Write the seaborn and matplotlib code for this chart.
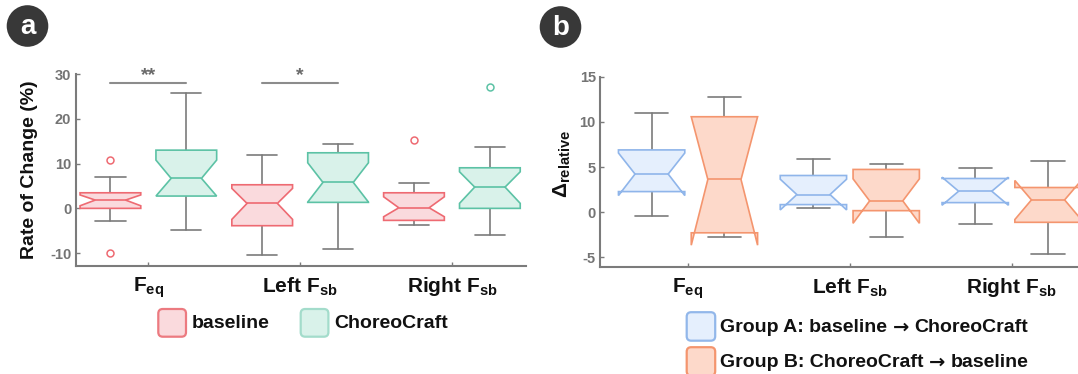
import numpy as np
import matplotlib
matplotlib.use("Agg")
import matplotlib.pyplot as plt
from matplotlib.patches import FancyBboxPatch, Circle
from matplotlib.offsetbox import TextArea, HPacker, AnnotationBbox
import seaborn as sns

# ---------------- data ----------------
metrics = [r"$\mathbf{F_{eq}}$", r"Left $\mathbf{F_{sb}}$", r"Right $\mathbf{F_{sb}}$"]

# (a) rate of change (%) per metric
base_q1 = [0.0, -3.87, -2.68]
base_med = [1.85, 1.11, 0.13]
base_q3 = [3.48, 5.27, 3.48]
base_lo = [-2.83, -10.5, -3.79]
base_hi = [6.92, 11.9, 5.58]
base_cilo = [0.58, -2.46, -1.87]
base_cihi = [3.0, 4.46, 2.59]
base_out = [[10.7, -10.04], [], [15.3]]

cc_q1 = [2.75, 1.34, 0.0]
cc_med = [6.7, 5.8, 4.75]
cc_q3 = [13.0, 12.41, 9.06]
cc_lo = [-4.91, -9.08, -5.96]
cc_hi = [25.67, 14.28, 13.68]
cc_cilo = [2.75, 1.4, 1.12]
cc_cihi = [10.78, 10.18, 8.17]
cc_out = [[], [], [27.14]]

sig_pairs = [0, 1]
sig_marks = ["**", "*"]
sig_level = 28.0

# (b) relative delta per metric, by group order
ga_q1 = [2.29, 0.85, 1.07]
ga_med = [4.23, 1.96, 2.33]
ga_q3 = [6.9, 4.07, 3.74]
ga_lo = [-0.45, 0.5, -1.27]
ga_hi = [10.97, 5.85, 4.89]
ga_cilo = [1.85, 0.26, 0.78]
ga_cihi = [6.56, 3.66, 3.88]

gb_q1 = [-2.27, 0.18, -1.11]
gb_med = [3.63, 1.26, 1.37]
gb_q3 = [10.57, 4.74, 2.74]
gb_lo = [-2.71, -2.71, -4.67]
gb_hi = [12.79, 5.3, 5.71]
gb_cilo = [-3.64, -1.22, -0.8]
gb_cihi = [10.57, 3.7, 3.52]

legend_a = ["baseline", "ChoreoCraft"]
legend_b = [("Group A: baseline", "ChoreoCraft"), ("Group B: ChoreoCraft", "baseline")]

# ---------------- style ----------------
sns.set_theme(style="ticks")
plt.rcParams["font.family"] = ["Liberation Sans", "DejaVu Sans"]
plt.rcParams["mathtext.fontset"] = "custom"
plt.rcParams["mathtext.rm"] = "Liberation Sans"
plt.rcParams["mathtext.bf"] = "Liberation Sans:bold"
plt.rcParams["mathtext.it"] = "Liberation Sans:italic"

GRAY = "#7b7b7b"
TICK_GRAY = "#747474"
RED_E, RED_F = "#ee6a72", "#fadadd"
GRN_E, GRN_F = "#5cc2a5", "#d9f2ea"
BLU_E, BLU_F = "#8fb5ea", "#e5effd"
ORG_E, ORG_F = "#f4956e", "#fdd9ca"
INK = "#111111"

W, H, DPI = 1078, 374, 100
fig = plt.figure(figsize=(W / DPI, H / DPI), dpi=DPI)


def px_axes(left, top, right, bottom):
    return fig.add_axes([left / W, 1 - bottom / H, (right - left) / W, (bottom - top) / H])


def draw_boxes(ax, pos, width, q1, med, q3, lo, hi, cilo, cihi, outs, edge, face):
    stats = []
    for i in range(len(q1)):
        stats.append(dict(q1=q1[i], med=med[i], q3=q3[i], whislo=lo[i], whishi=hi[i],
                          cilo=cilo[i], cihi=cihi[i], fliers=np.array(outs[i], dtype=float)))
    ax.bxp(stats, positions=pos, widths=width, capwidths=width / 2, shownotches=True,
           patch_artist=True, manage_ticks=False,
           boxprops=dict(facecolor=face, edgecolor=edge, linewidth=1.2, zorder=3),
           medianprops=dict(color=edge, linewidth=1.2, zorder=4),
           whiskerprops=dict(color=GRAY, linewidth=1.2, zorder=2),
           capprops=dict(color=GRAY, linewidth=1.2, zorder=2),
           flierprops=dict(marker="o", markerfacecolor="white", markeredgecolor=edge,
                           markersize=5, markeredgewidth=1.1, zorder=4))


def style_axes(ax, yticks):
    sns.despine(ax=ax)
    for s in ("left", "bottom"):
        ax.spines[s].set_color(GRAY)
        ax.spines[s].set_linewidth(1.5)
    ax.set_yticks(yticks)
    ax.set_yticklabels([str(t) for t in yticks], fontsize=10.5, fontweight="bold", color=TICK_GRAY)
    ax.tick_params(axis="y", direction="in", length=3, width=1, color=GRAY, pad=3)
    ax.set_xticks(range(len(metrics)))
    ax.set_xticklabels(metrics, fontsize=15, fontweight="bold", color=INK)
    ax.tick_params(axis="x", direction="in", length=3, width=1, color=GRAY, pad=7)
    ax.grid(False)
    ax.set_facecolor("none")


idx = np.arange(len(metrics))

# ---------------- panel a ----------------
ax_a = px_axes(75.5, 74, 526.3, 265.7)
draw_boxes(ax_a, idx - 0.25, 0.40, base_q1, base_med, base_q3, base_lo, base_hi,
           base_cilo, base_cihi, base_out, RED_E, RED_F)
draw_boxes(ax_a, idx + 0.25, 0.40, cc_q1, cc_med, cc_q3, cc_lo, cc_hi,
           cc_cilo, cc_cihi, cc_out, GRN_E, GRN_F)
ax_a.set_xlim(-0.48, 2.49)
ax_a.set_ylim(-12.8, 30)
style_axes(ax_a, [-10, 0, 10, 20, 30])
for g, mark in zip(sig_pairs, sig_marks):
    ax_a.plot([g - 0.25, g + 0.25], [sig_level, sig_level], color="#8c8c8c", lw=1.5,
              clip_on=False, zorder=5)
    ax_a.text(g, sig_level + 1.6, mark, ha="center", va="center", fontsize=14,
              fontweight="bold", color="#6a6a6a", clip_on=False)

fig.text(29.5 / W, 1 - 169.5 / H, "Rate of Change (%)", rotation=90, ha="center",
         va="center", fontsize=14, fontweight="bold", color=INK)

# ---------------- panel b ----------------
ax_b = px_axes(600, 76.7, 600 + 3.144 * 161.8, 266.7)
draw_boxes(ax_b, idx - 0.225, 0.41, ga_q1, ga_med, ga_q3, ga_lo, ga_hi,
           ga_cilo, ga_cihi, [[], [], []], BLU_E, BLU_F)
draw_boxes(ax_b, idx + 0.225, 0.41, gb_q1, gb_med, gb_q3, gb_lo, gb_hi,
           gb_cilo, gb_cihi, [[], [], []], ORG_E, ORG_F)
ax_b.set_xlim(-0.544, 2.6)
ax_b.set_ylim(-6.02, 15)
style_axes(ax_b, [-5, 0, 5, 10, 15])

fig.text(562 / W, 1 - 164 / H, r"$\mathbf{\Delta_{relative}}$", rotation=90, ha="center",
         va="center", fontsize=15, color=INK)

# ---------------- panel badges ----------------
for cx, cy, letter in [(27.5, 26, "a"), (560.5, 27, "b")]:
    fig.add_artist(Circle((cx / DPI, (H - cy) / DPI), 20.8 / DPI, transform=fig.dpi_scale_trans,
                          facecolor="#383838", edgecolor="none"))
    fig.text(cx / W, 1 - (cy + 1) / H, letter, ha="center", va="center", fontsize=20,
             fontweight="bold", color="white")


# ---------------- legends ----------------
def legend_patch(x, y, size, face, edge):
    fig.add_artist(FancyBboxPatch((x / DPI, (H - y - size) / DPI), size / DPI, size / DPI,
                                  boxstyle="round,pad=0,rounding_size=0.045",
                                  transform=fig.dpi_scale_trans, facecolor=face,
                                  edgecolor=edge, linewidth=1.6))


legend_patch(158.3, 309, 27.7, RED_F, "#ec7a80")
fig.text(191.7 / W, 1 - 323 / H, legend_a[0], ha="left", va="center", fontsize=14,
         fontweight="bold", color=INK)
legend_patch(300.7, 309, 27.7, GRN_F, "#a3dccb")
fig.text(334.3 / W, 1 - 323 / H, legend_a[1], ha="left", va="center", fontsize=14,
         fontweight="bold", color=INK)

txt_props = dict(fontsize=14, fontweight="bold", color=INK)
arrow_props = dict(fontsize=14, fontweight="bold", color=INK, family="DejaVu Sans")
for (left_txt, right_txt), y_mid, face, edge in [
        (legend_b[0], 326.7, BLU_F, "#92b7ea"),
        (legend_b[1], 361.7, ORG_F, "#f4956e")]:
    legend_patch(686.7, y_mid - 14.5, 28.5, face, edge)
    row = HPacker(children=[TextArea(left_txt, textprops=txt_props),
                            TextArea("\u2192", textprops=arrow_props),
                            TextArea(right_txt, textprops=txt_props)],
                  align="baseline", pad=0, sep=4)
    ab = AnnotationBbox(row, (720 / W, 1 - y_mid / H), xycoords="figure fraction",
                        box_alignment=(0, 0.5), frameon=False, pad=0)
    fig.add_artist(ab)

fig.savefig("out.png", dpi=DPI, facecolor="white")
